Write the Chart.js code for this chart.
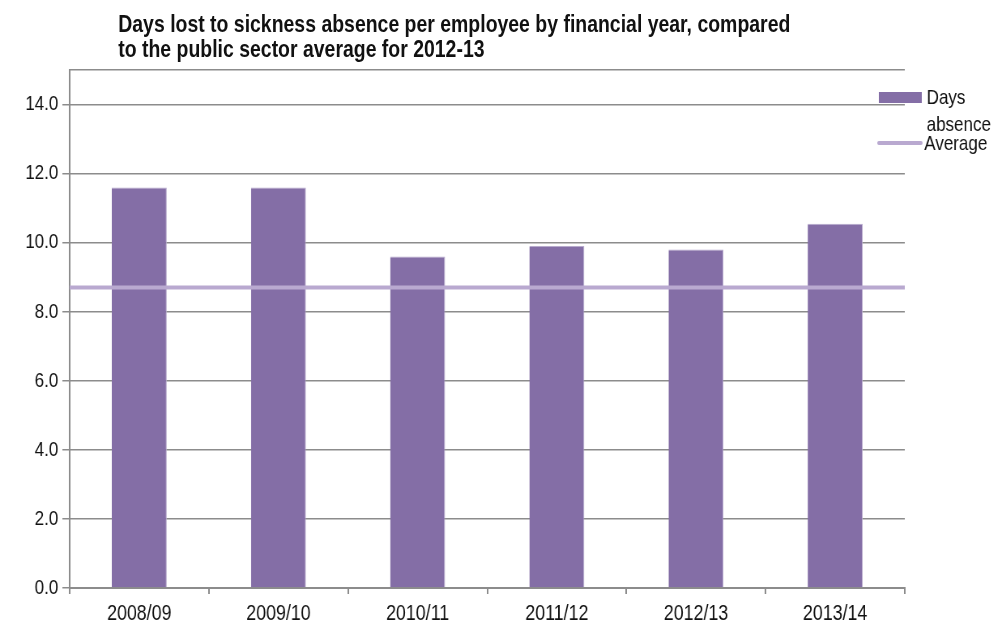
<!DOCTYPE html>
<html>
<head>
<meta charset="utf-8">
<script src="https://cdn.jsdelivr.net/npm/chart.js@4/dist/chart.umd.min.js"></script>
<style>
  html, body { margin: 0; padding: 0; background: #fff; overflow: hidden; }
  #stage {
    position: relative;
    width: 1230px;
    height: 625px;
    transform: scaleX(0.81);
    transform-origin: 0 0;
  }
  #title {
    position: absolute;
    left: 146px;
    top: 11px;
    font: bold 24px "Liberation Sans", Arial, sans-serif;
    line-height: 25px;
    color: #111;
    white-space: nowrap;
  }
  canvas { position: absolute; left: 0; top: 0; }
</style>
</head>
<body>
<div id="stage">
  <div id="title">Days lost to sickness absence per employee by financial year, compared<br>to the public sector average for 2012-13</div>
  <canvas id="chart" width="1230" height="625"></canvas>
</div>
<script>
// Financial years and days lost per employee
const years = ['2008/09', '2009/10', '2010/11', '2011/12', '2012/13', '2013/14'];
const daysAbsence = [11.6, 11.6, 9.6, 9.9, 9.8, 10.55];
// Public sector average for 2012-13
const publicSectorAverage = [8.7];
// Value axis ticks (the last one only closes the plot at the top)
const yTickValues = [0, 2, 4, 6, 8, 10, 12, 14, 15];
const yLabelledMax = 14;

const legendItems = ['Days\nabsence', 'Average'];

const barColor = '#846ea6';
const avgColor = '#b9a9d0';
const gridColor = '#8c8c8c';
const fontFamily = '"Liberation Sans", Arial, sans-serif';

// Average line spans the full plot width on a hidden linear axis
const avgPoints = [
  { x: 0, y: publicSectorAverage[0] },
  { x: years.length, y: publicSectorAverage[0] }
];

const legendPlugin = {
  id: 'sideLegend',
  afterDraw(chart) {
    const { ctx, chartArea } = chart;
    const r = chartArea.right;
    const t = chartArea.top;
    ctx.save();
    // bar swatch
    ctx.fillStyle = barColor;
    ctx.fillRect(r - 32, t + 22, 53, 11);
    ctx.fillStyle = '#111';
    ctx.font = '21px ' + fontFamily;
    ctx.textBaseline = 'alphabetic';
    ctx.textAlign = 'left';
    const lines = legendItems[0].split('\n');
    ctx.fillText(lines[0], r + 27, t + 34);
    ctx.fillText(lines[1], r + 27, t + 61);
    // line swatch
    ctx.strokeStyle = avgColor;
    ctx.lineWidth = 4;
    ctx.lineCap = 'round';
    ctx.beginPath();
    ctx.moveTo(r - 32, t + 73);
    ctx.lineTo(r + 20, t + 73);
    ctx.stroke();
    ctx.fillText(legendItems[1], r + 24, t + 80);
    ctx.restore();
  }
};

new Chart(document.getElementById('chart'), {
  type: 'bar',
  data: {
    labels: years,
    datasets: [
      {
        type: 'line',
        label: 'Average',
        data: avgPoints,
        xAxisID: 'x2',
        borderColor: avgColor,
        borderWidth: 4,
        borderCapStyle: 'butt',
        pointRadius: 0,
        fill: false,
        order: 0
      },
      {
        type: 'bar',
        label: 'Days absence',
        data: daysAbsence,
        xAxisID: 'x',
        backgroundColor: barColor,
        borderColor: '#b7aacd',
        borderWidth: { top: 1, right: 1, left: 0, bottom: 0 },
        grouped: false,
        categoryPercentage: 1,
        barPercentage: 0.395,
        order: 1
      }
    ]
  },
  options: {
    responsive: false,
    animation: false,
    devicePixelRatio: 1,
    layout: { padding: { top: 70, right: 113, left: 0, bottom: 0 } },
    plugins: {
      legend: { display: false },
      title: { display: false },
      tooltip: { enabled: false }
    },
    scales: {
      x: {
        type: 'category',
        offset: true,
        grid: {
          offset: true,
          drawOnChartArea: false,
          color: gridColor,
          tickColor: gridColor,
          tickLength: 6,
          lineWidth: 2
        },
        border: { color: gridColor, width: 2 },
        ticks: {
          color: '#111',
          font: { family: fontFamily, size: 22 },
          padding: 7,
          maxRotation: 0
        },
        afterFit(scale) { scale.height = 37; }
      },
      x2: {
        type: 'linear',
        display: false,
        offset: false,
        grid: { offset: false },
        min: 0,
        max: years.length
      },
      y: {
        type: 'linear',
        min: 0,
        max: yTickValues[yTickValues.length - 1],
        afterBuildTicks(scale) {
          scale.ticks = yTickValues.map(v => ({ value: v }));
        },
        grid: {
          color: gridColor,
          lineWidth: 1.5,
          tickLength: 9,
          tickColor: ctx => (ctx.tick && ctx.tick.value > yLabelledMax) ? 'rgba(0,0,0,0)' : gridColor
        },
        border: { color: gridColor, width: 2 },
        ticks: {
          color: '#111',
          font: { family: fontFamily, size: 21 },
          padding: 5,
          callback: v => v > yLabelledMax ? '' : v.toFixed(1)
        },
        afterFit(scale) { scale.width = 86; }
      }
    }
  },
  plugins: [legendPlugin]
});
</script>
</body>
</html>
